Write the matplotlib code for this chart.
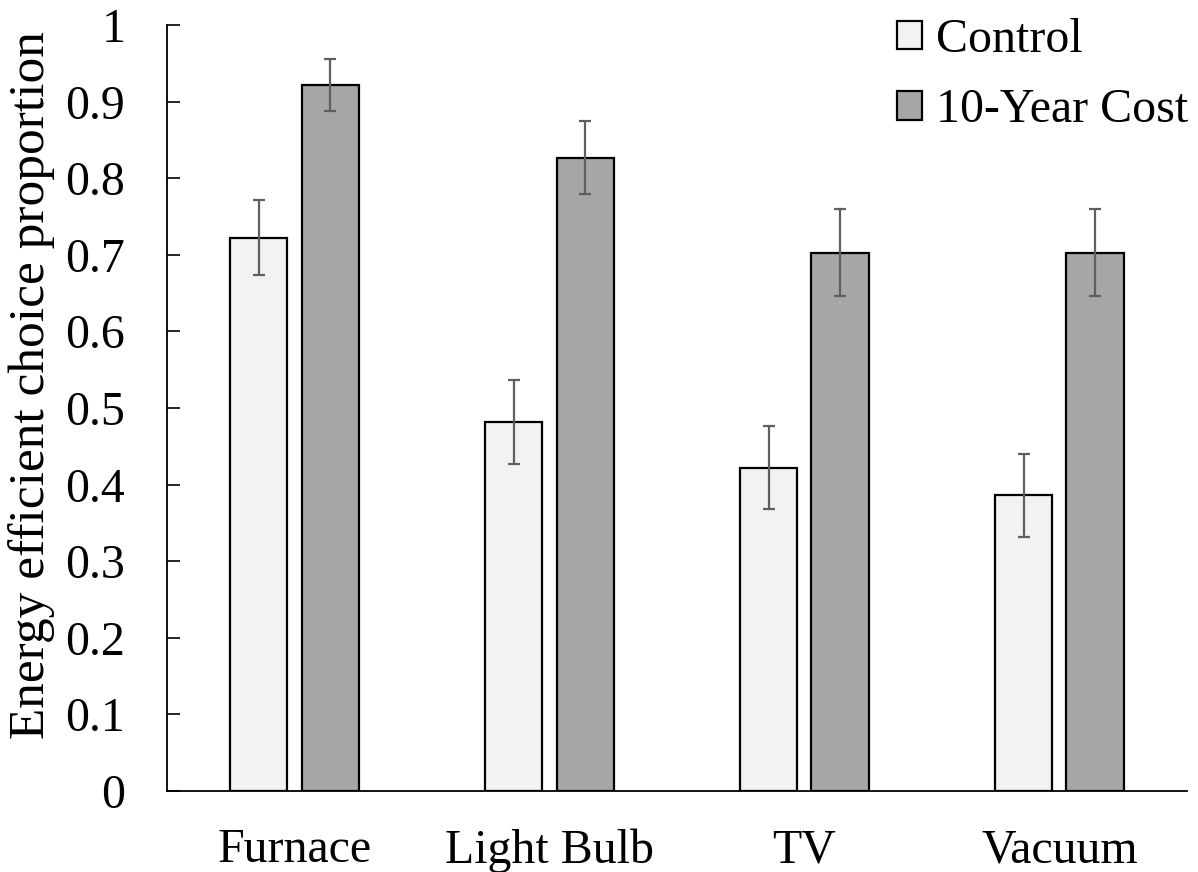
import numpy as np
import matplotlib
matplotlib.use("Agg")
import matplotlib.pyplot as plt

plt.rcParams['font.family'] = ['Liberation Serif', 'DejaVu Serif']

# data
categories = ['Furnace', 'Light Bulb', 'TV', 'Vacuum']
control = [0.722, 0.482, 0.422, 0.386]
control_err = [0.049, 0.055, 0.054, 0.054]
cost10 = [0.922, 0.827, 0.703, 0.703]
cost10_err = [0.034, 0.048, 0.057, 0.057]
yticks = [0, 0.1, 0.2, 0.3, 0.4, 0.5, 0.6, 0.7, 0.8, 0.9, 1]
ytick_labels = ['0', '0.1', '0.2', '0.3', '0.4', '0.5', '0.6', '0.7', '0.8', '0.9', '1']

fs = 34.5
fig = plt.figure(figsize=(11.98, 8.72), dpi=100)
ax = fig.add_axes([0.1394, 0.0929, 0.9908 - 0.1394, 0.9713 - 0.0929])

x = np.arange(len(categories))
w = 0.227
off = 0.141
err_kw = dict(ecolor='#5f5f5f', elinewidth=1.6, capsize=4.3, capthick=1.6)
ax.bar(x - off, control, w, yerr=control_err, color='#f2f2f2', edgecolor='black',
       linewidth=1.6, label='Control', error_kw=err_kw)
ax.bar(x + off, cost10, w, yerr=cost10_err, color='#a6a6a6', edgecolor='black',
       linewidth=1.6, label='10-Year Cost', error_kw=err_kw)

ax.set_xlim(-0.5, 3.5)
ax.set_ylim(0, 1)
ax.set_xticks(x)
ax.set_xticklabels(categories, fontsize=fs)
ax.set_yticks(yticks)
ax.set_yticklabels(ytick_labels, fontsize=fs)
ax.tick_params(axis='x', length=0, pad=27)
ax.tick_params(axis='y', direction='in', length=9.5, width=1.2, pad=30)

for s in ['top', 'right']:
    ax.spines[s].set_visible(False)
for s in ['left', 'bottom']:
    ax.spines[s].set_linewidth(1.3)

# label in the reference is drawn a little wider than the tick text
ax.set_ylabel('Energy efficient choice proportion', fontsize=37)
ax.yaxis.set_label_coords(-0.11, 0.53)

ax.legend(loc='upper left', bbox_to_anchor=(897 / 1198, 1 - 18 / 872),
          bbox_transform=fig.transFigure, frameon=False, fontsize=fs,
          borderpad=0, borderaxespad=0, handlelength=0.53, handleheight=0.53,
          handletextpad=0.28, labelspacing=0.55)

fig.savefig('out.png', dpi=100)
